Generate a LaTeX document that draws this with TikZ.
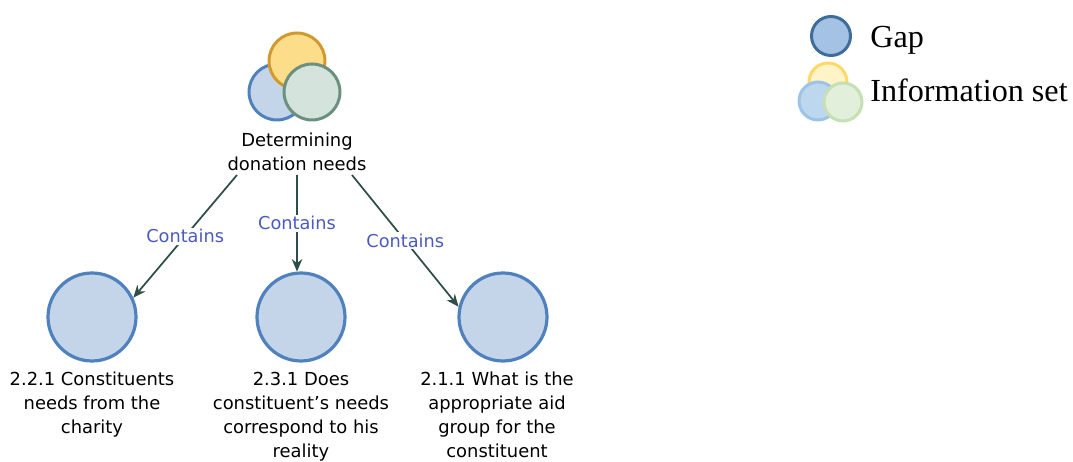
\documentclass[tikz,border=0pt]{standalone}
\usepackage{fontspec}
\setmainfont{Liberation Serif}
\newfontfamily\diagfont{DejaVu Sans}
\usetikzlibrary{arrows.meta,positioning}

\definecolor{gapfill}{HTML}{C4D5E9}
\definecolor{gapline}{HTML}{4F81BD}
\definecolor{setyfill}{HTML}{FCDE8A}
\definecolor{setyline}{HTML}{D29A2E}
\definecolor{setgfill}{HTML}{D4E3DC}
\definecolor{setgline}{HTML}{6B9080}
\definecolor{arrowcol}{HTML}{2E4E4A}
\definecolor{relcol}{HTML}{4A5BC0}
\definecolor{keygapfill}{HTML}{A4C2E3}
\definecolor{keygapline}{HTML}{3F6D9A}
\definecolor{keyyfill}{HTML}{FFF3C8}
\definecolor{keyyline}{HTML}{FFD966}
\definecolor{keybfill}{HTML}{BDD7EE}
\definecolor{keybline}{HTML}{9DC3E6}
\definecolor{keygfill}{HTML}{E2EFDA}
\definecolor{keygline}{HTML}{C5E0B4}

\tikzset{
	blob/.style={circle, inner sep=0pt, line width=0.06cm},
	gapnode/.style={blob, draw=gapline, fill=gapfill, minimum size=1.76cm, line width=0.064cm},
	setpart/.style={blob, minimum size=1.12cm},
	keypart/.style={blob, minimum size=0.76cm},
	caption/.style={font=\diagfont\fontsize{10.2}{13.66}\selectfont, align=center, inner sep=0pt},
	contains/.style={draw=arrowcol, line width=0.035cm, -{Stealth[length=0.25cm, width=0.21cm]}},
	rel/.style={fill=white, text=relcol, font=\diagfont\fontsize{10.1}{12}\selectfont, inner sep=1pt}
}

\begin{document}
\begin{tikzpicture}[x=0.02cm, y=-0.02cm]
		%%%%% START %%%%%
		\useasboundingbox (0, 0) rectangle (1073, 462);
		
		% information set on top
		\node[setpart, draw=gapline, fill=gapfill] (topblue) at (277, 92) {};
		\node[setpart, draw=setyline, fill=setyfill] (topyellow) at (297, 61) {};
		\node[setpart, draw=setgline, fill=setgfill] (topgreen) at (312, 92) {};
		\node[caption] (det) at (297, 152) {Determining\\donation needs};
		
		% gaps
		\node[gapnode] (gapone) at (92, 317) {};
		\node[gapnode] (gaptwo) at (301, 317) {};
		\node[gapnode] (gapthree) at (503, 317) {};
		
		\node[caption, anchor=north, below=0.18cm of gapone] (capone) {2.2.1 Constituents\\needs from the\\charity};
		\node[caption, anchor=north, below=0.18cm of gaptwo] (captwo) {2.3.1 Does\\constituent’s needs\\correspond to his\\reality};
		\node[caption, anchor=north, below=0.18cm of gapthree, xshift=-0.12cm] (capthree) {2.1.1 What is the\\appropriate aid\\group for the\\constituent};
		
		% connectors
		\coordinate (sone) at (237, 175);
		\coordinate (stwo) at (297, 175);
		\coordinate (sthree) at (352, 175);
		\draw[contains] (sone) -- node[rel] (relone) {Contains} (gapone.25);
		\draw[contains] (stwo) -- node[rel] (reltwo) {Contains} (gaptwo.95);
		\draw[contains] (sthree) -- node[rel] (relthree) {Contains} (gapthree.167);
		
		% legend
		\node[keypart, draw=keygapline, fill=keygapfill, minimum size=0.78cm] (keygap) at (831, 36) {};
		\node[anchor=base west, inner sep=0pt, font=\fontsize{18.3}{20}\selectfont] (keygaptext) at (870, 48) {Gap};
		\node[keypart, draw=keyyline, fill=keyyfill] (keyyellow) at (828, 82) {};
		\node[keypart, draw=keybline, fill=keybfill] (keyblue) at (818, 101) {};
		\node[keypart, draw=keygline, fill=keygfill] (keygreen) at (843, 102) {};
		\node[anchor=base west, inner sep=0pt, font=\fontsize{18.3}{20}\selectfont] (keysettext) at (870, 102) {Information set};
		%%%%% END %%%%%
\end{tikzpicture}
\end{document}
